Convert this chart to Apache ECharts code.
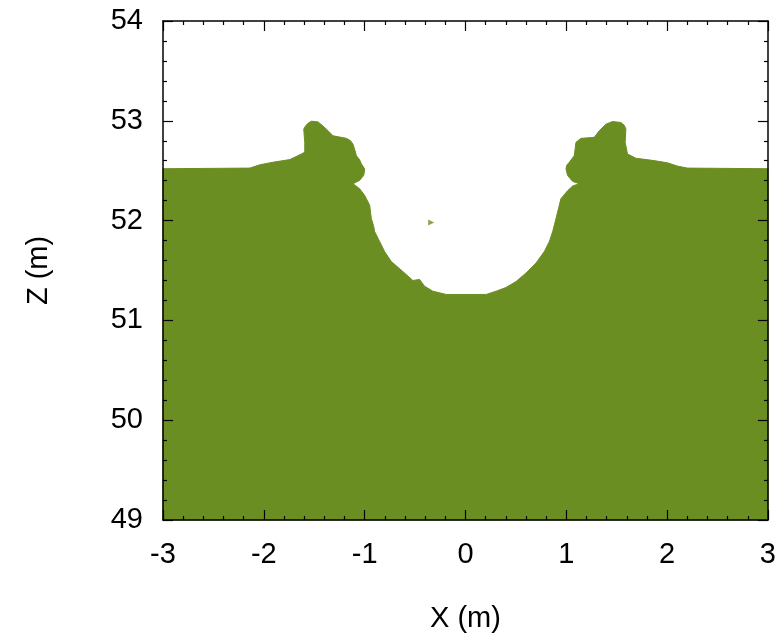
<!DOCTYPE html>
<html><head><meta charset="utf-8">
<script src="https://cdn.jsdelivr.net/npm/echarts@6/dist/echarts.min.js"></script>
<style>html,body{margin:0;padding:0;background:#fff}#c{width:779px;height:638px}</style>
</head><body><div id="c"></div><script>
const xTicks = [-3, -2, -1, 0, 1, 2, 3];
const zTicks = [49, 50, 51, 52, 53, 54];
const xName = 'X (m)';
const zName = 'Z (m)';
// outline of the fluid region (x in m, z in m), walked as a closed polygon
const surfaceX = [-3, -3, -2.139, -2.040, -1.908, -1.743, -1.693, -1.627, -1.594, -1.594, -1.604, -1.585, -1.561, -1.528, -1.462, -1.396, -1.314, -1.181, -1.140, -1.116, -1.095, -1.082, -1.050, -1.033, -1.000, -1.003, -1.010, -1.050, -1.116, -1.050, -1.000, -0.950, -0.934, -0.912, -0.901, -0.851, -0.802, -0.736, -0.621, -0.522, -0.455, -0.406, -0.324, -0.191, 0.205, 0.304, 0.403, 0.502, 0.601, 0.700, 0.782, 0.832, 0.865, 0.898, 0.931, 0.947, 1.013, 1.063, 1.129, 1.063, 1.013, 0.997, 1.005, 1.030, 1.079, 1.096, 1.146, 1.277, 1.327, 1.393, 1.459, 1.541, 1.575, 1.591, 1.584, 1.607, 1.690, 1.871, 2.003, 2.102, 2.201, 3, 3];
const surfaceZ = [49, 52.52, 52.526, 52.559, 52.585, 52.611, 52.635, 52.668, 52.685, 52.784, 52.917, 52.950, 52.976, 52.996, 52.989, 52.933, 52.850, 52.824, 52.800, 52.767, 52.700, 52.651, 52.610, 52.569, 52.519, 52.485, 52.452, 52.403, 52.370, 52.320, 52.253, 52.154, 52.022, 51.95, 51.89, 51.79, 51.69, 51.59, 51.49, 51.40, 51.41, 51.343, 51.293, 51.26, 51.26, 51.293, 51.33, 51.39, 51.475, 51.575, 51.69, 51.79, 51.89, 52.02, 52.155, 52.22, 52.30, 52.347, 52.37, 52.393, 52.452, 52.519, 52.555, 52.585, 52.651, 52.784, 52.824, 52.834, 52.90, 52.966, 52.993, 52.983, 52.955, 52.917, 52.784, 52.668, 52.625, 52.601, 52.579, 52.546, 52.526, 52.52, 49];
// isolated droplet
const dropX = [-0.34];
const dropZ = [51.98];

const FONT = 'Liberation Sans';
const FILL = '#6b8e23';
const FS = 29;

const chart = echarts.init(document.getElementById('c'), null, {renderer: 'canvas'});

function axisCommon(extra) {
  return Object.assign({
    type: 'value',
    z: 10,
    axisLine: {show: true, onZero: false, lineStyle: {color: '#000', width: 1.5}},
    axisTick: {show: true, inside: true, length: 10, lineStyle: {color: '#000', width: 1.2}},
    minorTick: {show: true, splitNumber: 5, length: 4, lineStyle: {color: '#000', width: 1.2}},
    splitLine: {show: false},
    axisLabel: {show: false}
  }, extra);
}

const xMin = xTicks[0], xMax = xTicks[xTicks.length - 1];
const zMin = zTicks[0], zMax = zTicks[zTicks.length - 1];

chart.setOption({
  animation: false,
  backgroundColor: '#fff',
  grid: {left: 163, right: 10, top: 21, bottom: 114, containLabel: false},
  xAxis: [
    axisCommon({
      min: xMin, max: xMax, interval: 1, position: 'bottom',
      name: xName, nameLocation: 'middle', nameGap: 84,
      nameTextStyle: {fontFamily: FONT, fontSize: FS, color: '#000'},
      axisLabel: {show: true, margin: 20, fontFamily: FONT, fontSize: FS, color: '#000'}
    }),
    axisCommon({min: xMin, max: xMax, interval: 1, position: 'top'})
  ],
  yAxis: [
    axisCommon({
      min: zMin, max: zMax, interval: 1, position: 'left',
      name: zName, nameLocation: 'middle', nameGap: 110, nameRotate: 90,
      nameTextStyle: {fontFamily: FONT, fontSize: FS, color: '#000'},
      axisLabel: {show: true, margin: 20, fontFamily: FONT, fontSize: FS, color: '#000'}
    }),
    axisCommon({min: zMin, max: zMax, interval: 1, position: 'right'})
  ],
  series: [
    {
      type: 'custom',
      coordinateSystem: 'cartesian2d',
      xAxisIndex: 0, yAxisIndex: 0,
      z: 1,
      silent: true,
      data: surfaceX.map((x, i) => [x, surfaceZ[i]]),
      renderItem: function (params, api) {
        if (params.dataIndex !== 0) return null;
        const pts = surfaceX.map((x, i) => api.coord([x, surfaceZ[i]]));
        return {
          type: 'polygon',
          shape: {points: pts},
          style: {fill: FILL, stroke: FILL, lineWidth: 1}
        };
      }
    },
    {
      type: 'scatter',
      xAxisIndex: 0, yAxisIndex: 0,
      z: 2,
      symbol: 'triangle',
      symbolRotate: -90,
      symbolSize: 6,
      itemStyle: {color: FILL},
      data: dropX.map((x, i) => [x, dropZ[i]])
    }
  ]
});
</script></body></html>
